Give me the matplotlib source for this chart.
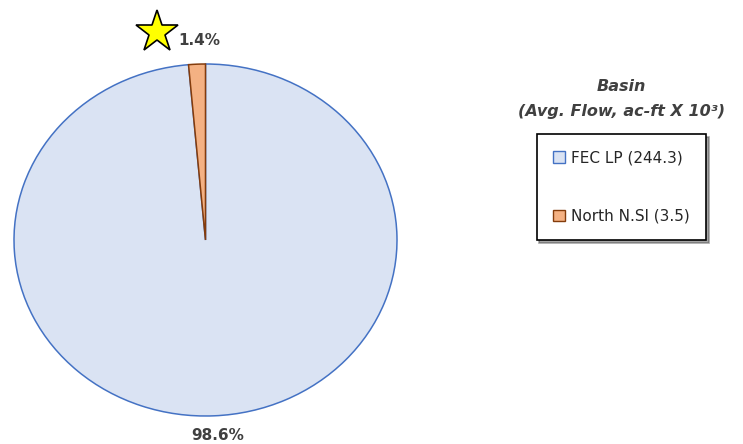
import matplotlib.pyplot as plt
from matplotlib.patches import Patch

basins = ['FEC LP', 'North N.Sl']
avg_flow = [244.3, 3.5]
fills = ['#DAE3F3', '#F4B183']
edges = ['#4472C4', '#843C0C']

total = sum(avg_flow)
shares = [v / total * 100 for v in avg_flow]

fig = plt.figure(figsize=(7.43, 4.44), dpi=100)
ax = fig.add_axes([14 / 743, 28 / 444, 383 / 743, 352 / 444])

# start so the small slice sits just left of twelve o'clock
start = 90 + avg_flow[1] / total * 360
wedges, _ = ax.pie(avg_flow, colors=fills, startangle=start, radius=1,
                   wedgeprops=dict(linewidth=1.1))
for w, ec in zip(wedges, edges):
    w.set_edgecolor(ec)
ax.set_aspect('auto')
ax.set_xlim(-1, 1)
ax.set_ylim(-1, 1)

ax.text(-0.03, 1.135, f'{shares[1]:.1f}%', ha='center', va='center',
        fontsize=11, fontweight='bold', color='#404040')
ax.text(0.065, -1.11, f'{shares[0]:.1f}%', ha='center', va='center',
        fontsize=11, fontweight='bold', color='#404040')
ax.plot([-0.253], [1.18], marker='*', markersize=32, markerfacecolor='#FFFF00',
        markeredgecolor='black', markeredgewidth=1.2, clip_on=False)

fig.text(0.836, 0.805, 'Basin', ha='center', va='center', fontsize=11.5,
         fontweight='bold', style='italic', color='#404040')
fig.text(0.836, 0.748, '(Avg. Flow, ac-ft X 10³)', ha='center', va='center',
         fontsize=11.5, fontweight='bold', style='italic', color='#404040')

handles = [Patch(facecolor=f, edgecolor=e, label=f'{b} ({v})')
           for b, v, f, e in zip(basins, avg_flow, fills, edges)]
leg = fig.legend(handles=handles, loc='center', bbox_to_anchor=(0.836, 0.579),
                 fontsize=11, frameon=True, shadow=True, fancybox=False,
                 labelspacing=2.85, handlelength=0.8, handleheight=0.8,
                 handletextpad=0.4, borderpad=1.05, labelcolor='#262626')
leg.get_frame().set_edgecolor('black')
leg.get_frame().set_linewidth(1.2)

fig.savefig('out.png', dpi=100)
